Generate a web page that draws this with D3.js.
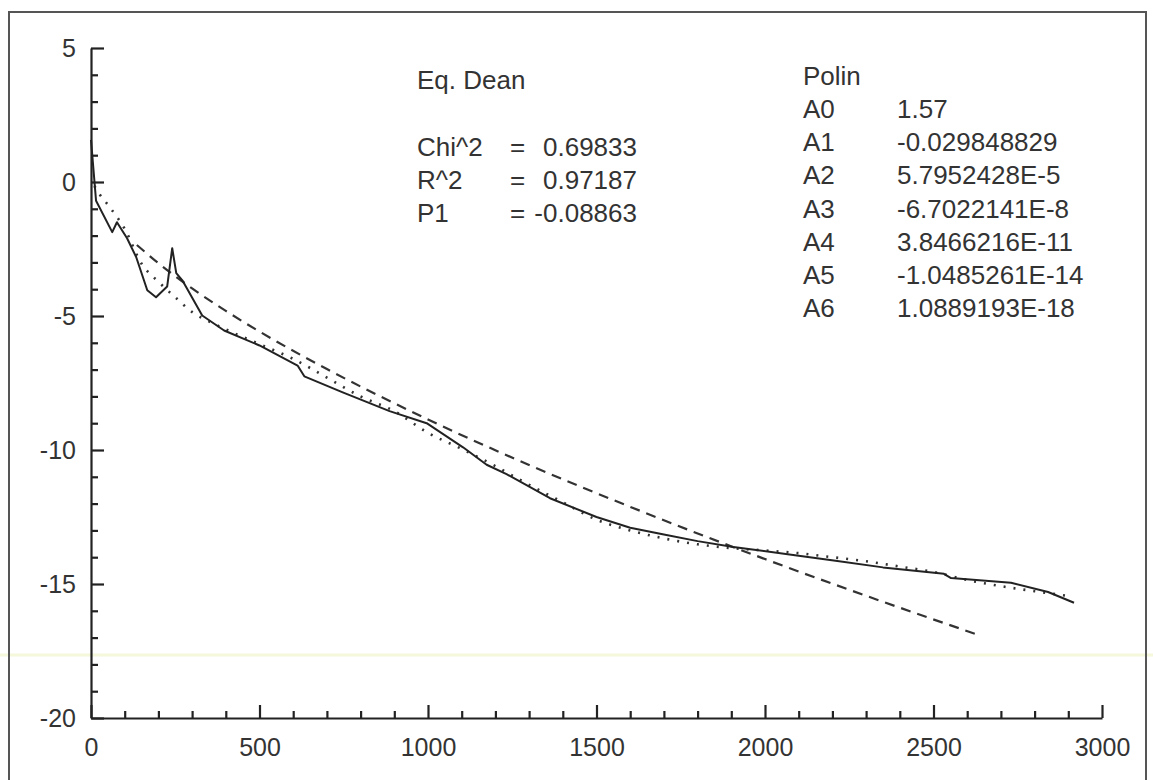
<!DOCTYPE html>
<html>
<head>
<meta charset="utf-8">
<title>Eq. Dean / Polin profile</title>
<script src="https://cdn.jsdelivr.net/npm/d3@7"></script>
<style>
  body { margin: 0; background: #fff; }
  svg text { font-family: "Liberation Sans", Arial, sans-serif; fill: #333; }
</style>
</head>
<body>
<svg id="chart" width="1153" height="780"></svg>
<script>
// measured profile (solid)
var measX = [0, 15, 63, 77, 107, 134, 167, 193, 226, 241, 253, 271, 330, 395, 500, 613, 633, 747, 886, 996,
             1104, 1174, 1233, 1362, 1500, 1600, 1700, 1800, 1906, 1957, 2100, 2204, 2350, 2531, 2552, 2730, 2840, 2917];
var measY = [1.57, -0.7, -1.87, -1.5, -2.1, -2.8, -4.04, -4.3, -3.9, -2.47, -3.4, -3.67, -4.98, -5.54, -6.1, -6.85, -7.25, -7.85, -8.55, -9.0,
             -9.9, -10.55, -10.9, -11.8, -12.5, -12.9, -13.15, -13.4, -13.62, -13.7, -13.95, -14.12, -14.38, -14.62, -14.78, -14.95, -15.3, -15.7];

// Dean fit (dashed)
var deanX = [136, 150, 200, 300, 400, 500, 700, 1000, 1300, 1600, 2000, 2300, 2640];
var deanY = [-2.35, -2.5, -3.03, -3.97, -4.81, -5.58, -6.98, -8.86, -10.56, -12.12, -14.07, -15.44, -16.93];

// polynomial fit (dotted)
var polX = [10, 25, 50, 100, 150, 200, 250, 300, 350, 400, 500, 600, 700, 800, 900, 1000, 1100, 1200, 1300, 1400,
            1500, 1600, 1700, 1800, 1900, 2000, 2100, 2200, 2300, 2400, 2500, 2600, 2700, 2800, 2910];
var polY = [-0.15, -0.45, -0.85, -1.75, -3.05, -3.72, -4.3, -4.85, -5.2, -5.5, -6.05, -6.6, -7.3, -8.0, -8.55, -9.36, -9.96, -10.6, -11.3, -11.95,
            -12.6, -13.0, -13.3, -13.52, -13.66, -13.75, -13.85, -14.0, -14.15, -14.35, -14.55, -14.85, -15.08, -15.27, -15.46];

var xMajor = [0, 500, 1000, 1500, 2000, 2500, 3000];
var xMinor = d3.range(0, 3001, 100).filter(function(v) { return v % 500 !== 0; });
var yMajor = [5, 0, -5, -10, -15, -20];
var yMinor = d3.range(-20, 6, 1).filter(function(v) { return v % 5 !== 0; });

var deanTitle = "Eq. Dean";
var deanNames = ["Chi^2", "R^2", "P1"];
var deanValues = ["0.69833", "0.97187", "-0.08863"];

var polTitle = "Polin";
var polNames = ["A0", "A1", "A2", "A3", "A4", "A5", "A6"];
var polValues = ["1.57", "-0.029848829", "5.7952428E-5", "-6.7022141E-8", "3.8466216E-11", "-1.0485261E-14", "1.0889193E-18"];

var svg = d3.select("#chart");

// scan frame and faint stripe
svg.append("line").attr("x1", 0).attr("x2", 1153).attr("y1", 655).attr("y2", 655)
   .attr("stroke", "#f5f8da").attr("stroke-width", 3);
svg.append("path").attr("d", "M9,780 L9,12 L1146,12 L1146,780")
   .attr("fill", "none").attr("stroke", "#555").attr("stroke-width", 2);

var x = d3.scaleLinear().domain([0, 3000]).range([91, 1102]);
var y = d3.scaleLinear().domain([-20, 5]).range([718, 48]);

var plain = function(d) { return String(d); };

var g = svg.append("g");

// y axis
g.append("g").attr("transform", "translate(" + x(0) + ",0)")
  .call(d3.axisLeft(y).tickValues(yMajor).tickSize(-13).tickSizeOuter(0).tickPadding(15).tickFormat(plain))
  .call(function(a) {
    a.selectAll("text").attr("font-size", 25);
    a.select(".domain").attr("stroke", "#222").attr("stroke-width", 2.2);
    a.selectAll(".tick line").attr("stroke", "#222").attr("stroke-width", 2.2);
  });
g.append("g").attr("transform", "translate(" + x(0) + ",0)")
  .call(d3.axisLeft(y).tickValues(yMinor).tickSize(-7).tickFormat(""))
  .call(function(a) {
    a.select(".domain").remove();
    a.selectAll(".tick line").attr("stroke", "#222").attr("stroke-width", 2.2);
  });

// x axis
g.append("g").attr("transform", "translate(0," + y(-20) + ")")
  .call(d3.axisBottom(x).tickValues(xMajor).tickSize(-13).tickSizeOuter(0).tickPadding(20).tickFormat(plain))
  .call(function(a) {
    a.selectAll("text").attr("font-size", 25);
    a.select(".domain").attr("stroke", "#222").attr("stroke-width", 2.2);
    a.selectAll(".tick line").attr("stroke", "#222").attr("stroke-width", 2.2);
  });
g.append("g").attr("transform", "translate(0," + y(-20) + ")")
  .call(d3.axisBottom(x).tickValues(xMinor).tickSize(-7).tickFormat(""))
  .call(function(a) {
    a.select(".domain").remove();
    a.selectAll(".tick line").attr("stroke", "#222").attr("stroke-width", 2.2);
  });

function pts(xs, ys) {
  return xs.map(function(v, i) { return [v, ys[i]]; });
}

var straight = d3.line().x(function(d) { return x(d[0]); }).y(function(d) { return y(d[1]); });
var smooth = d3.line().x(function(d) { return x(d[0]); }).y(function(d) { return y(d[1]); }).curve(d3.curveMonotoneX);

g.append("path").datum(pts(polX, polY)).attr("d", smooth)
  .attr("fill", "none").attr("stroke", "#333").attr("stroke-width", 2.6)
  .attr("stroke-dasharray", "2,8");

g.append("path").datum(pts(deanX, deanY)).attr("d", smooth)
  .attr("fill", "none").attr("stroke", "#333").attr("stroke-width", 2.2)
  .attr("stroke-dasharray", "10,7");

g.append("path").datum(pts(measX, measY)).attr("d", straight)
  .attr("fill", "none").attr("stroke", "#222").attr("stroke-width", 2)
  .attr("stroke-linejoin", "round");

// Eq. Dean block
var tb = svg.append("g");
tb.append("text").attr("x", 417).attr("y", 89).attr("font-size", 26).text(deanTitle);
deanNames.forEach(function(n, i) {
  var yy = 156 + i * 33;
  tb.append("text").attr("x", 417).attr("y", yy).attr("font-size", 26).text(n);
  tb.append("text").attr("x", 510).attr("y", yy).attr("font-size", 26).text("=");
  tb.append("text").attr("x", 637).attr("y", yy).attr("font-size", 26).attr("text-anchor", "end").text(deanValues[i]);
});

// Polin block
tb.append("text").attr("x", 803).attr("y", 85).attr("font-size", 26).text(polTitle);
polNames.forEach(function(n, i) {
  var yy = 118 + i * 33.2;
  tb.append("text").attr("x", 803).attr("y", yy).attr("font-size", 26).text(n);
  tb.append("text").attr("x", 897).attr("y", yy).attr("font-size", 26).text(polValues[i]);
});
</script>
</body>
</html>
